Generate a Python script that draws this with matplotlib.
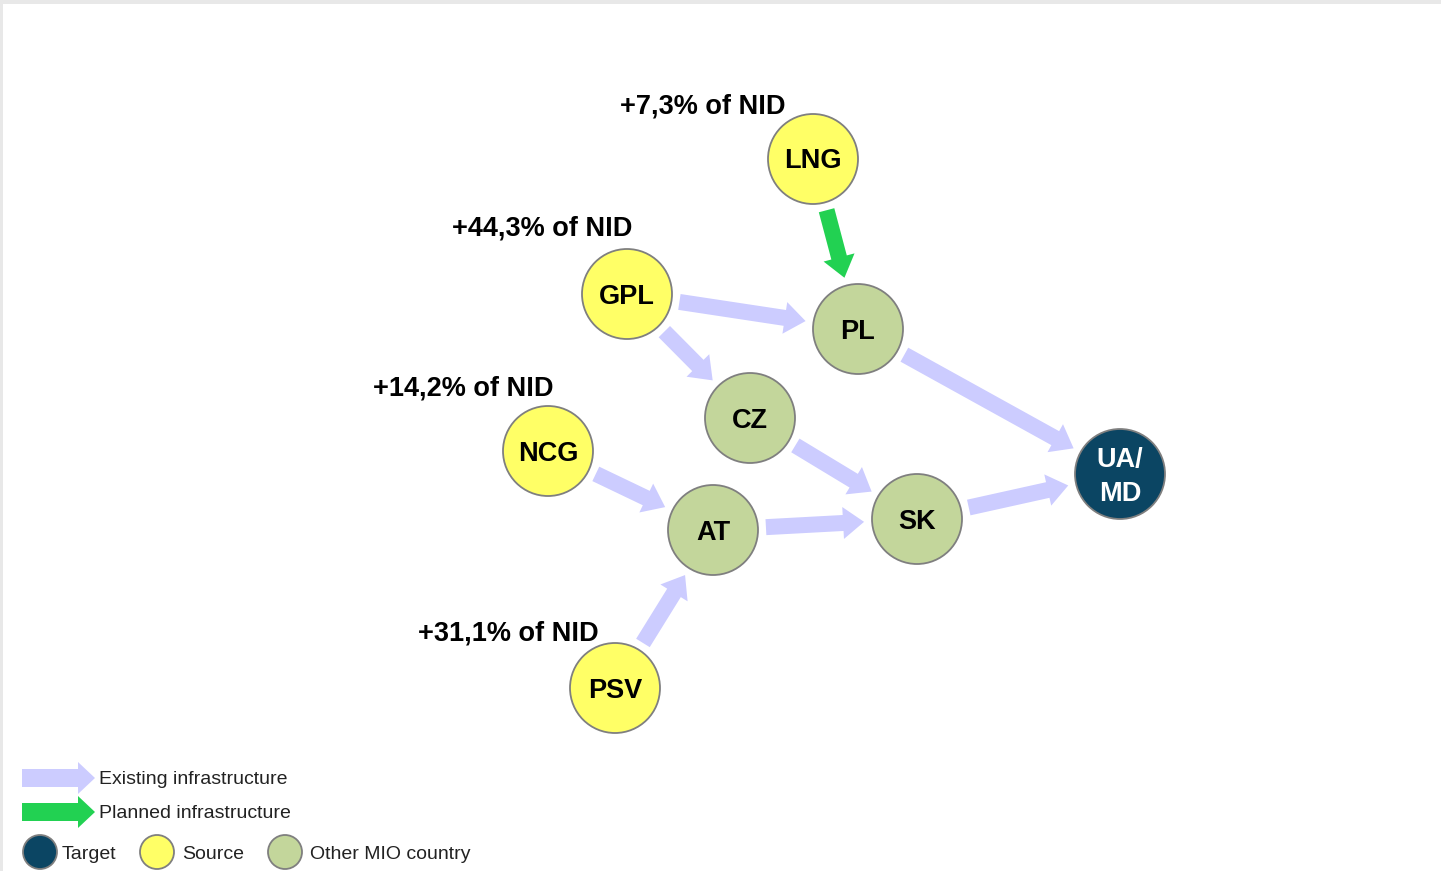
import matplotlib
matplotlib.use("Agg")
import matplotlib.pyplot as plt
from matplotlib.patches import Circle, FancyArrow, Rectangle
import numpy as np

plt.rcParams['font.family'] = ['Liberation Sans', 'DejaVu Sans']

# nodes: name, x, y (pixel positions in the schematic), kind
node_names = ["LNG", "GPL", "PL", "CZ", "NCG", "AT", "SK", "UA/\nMD", "PSV"]
node_x = [813, 627, 858, 750, 548, 713, 917, 1120, 615]
node_y = [159, 294, 329, 418, 451, 530, 519, 474, 688]
node_kind = ["source", "source", "other", "other", "source", "other", "other", "target", "source"]

# share labels of the source nodes
share_nodes = ["LNG", "GPL", "NCG", "PSV"]
share_text = ["+7,3% of NID", "+44,3% of NID", "+14,2% of NID", "+31,1% of NID"]
share_pos = [(703, 105), (542, 226), (463, 386), (508, 631)]

# edges (from, to, status)
edges = [("GPL", "PL", "existing"), ("GPL", "CZ", "existing"), ("PL", "UA/\nMD", "existing"),
         ("CZ", "SK", "existing"), ("NCG", "AT", "existing"), ("AT", "SK", "existing"),
         ("SK", "UA/\nMD", "existing"), ("PSV", "AT", "existing"), ("LNG", "PL", "planned")]

fill = {"source": "#ffff66", "other": "#c3d69b", "target": "#0b4563"}
arrow_col = {"existing": "#ccccff", "planned": "#22d152"}

W, H = 1441, 871
fig = plt.figure(figsize=(W / 100, H / 100), dpi=100)
fig.patch.set_facecolor("#e8e8e8")
ax = fig.add_axes([0, 0, 1, 1])
ax.set_xlim(0, W)
ax.set_ylim(H, 0)
ax.set_aspect("equal")
ax.axis("off")
ax.add_patch(Rectangle((3, 4), W, H, facecolor="white", edgecolor="none", zorder=0))

pos = {n: (x, y) for n, x, y in zip(node_names, node_x, node_y)}
R = 45
gap = 53

for a, b, st in edges:
    x0, y0 = pos[a]
    x1, y1 = pos[b]
    d = np.hypot(x1 - x0, y1 - y0)
    ux, uy = (x1 - x0) / d, (y1 - y0) / d
    sx, sy = x0 + ux * gap, y0 + uy * gap
    L = d - 2 * gap
    ax.add_patch(FancyArrow(sx, sy, ux * L, uy * L, width=16, head_width=32,
                            head_length=21, length_includes_head=True,
                            color=arrow_col[st], lw=0, zorder=2))

for n, x, y, k in zip(node_names, node_x, node_y, node_kind):
    ax.add_patch(Circle((x, y), R, facecolor=fill[k], edgecolor="#7f7f7f", lw=1.3, zorder=3))
    ax.text(x, y + 2.5, n, ha="center", va="center", fontsize=19.5, fontweight="bold",
            color="white" if k == "target" else "black", linespacing=1.4, zorder=4)

for t, (x, y) in zip(share_text, share_pos):
    ax.text(x, y + 2, t, ha="center", va="center", fontsize=19.5, fontweight="bold", color="black")

# legend
leg_arrows = [("existing", "Existing infrastructure", 778), ("planned", "Planned infrastructure", 812)]
for st, lab, y in leg_arrows:
    ax.add_patch(FancyArrow(22, y, 73, 0, width=18, head_width=32, head_length=17,
                            length_includes_head=True, color=arrow_col[st], lw=0))
    ax.text(99, y + 1.5, lab, ha="left", va="center", fontsize=14, color="#222222")

leg_nodes = [("target", "Target", 40, 62), ("source", "Source", 157, 182),
             ("other", "Other MIO country", 285, 310)]
for k, lab, cx, tx in leg_nodes:
    ax.add_patch(Circle((cx, 852), 17, facecolor=fill[k], edgecolor="#7f7f7f", lw=1.3))
    ax.text(tx, 854, lab, ha="left", va="center", fontsize=14, color="#222222")

fig.savefig("out.png", dpi=100, facecolor=fig.get_facecolor())
